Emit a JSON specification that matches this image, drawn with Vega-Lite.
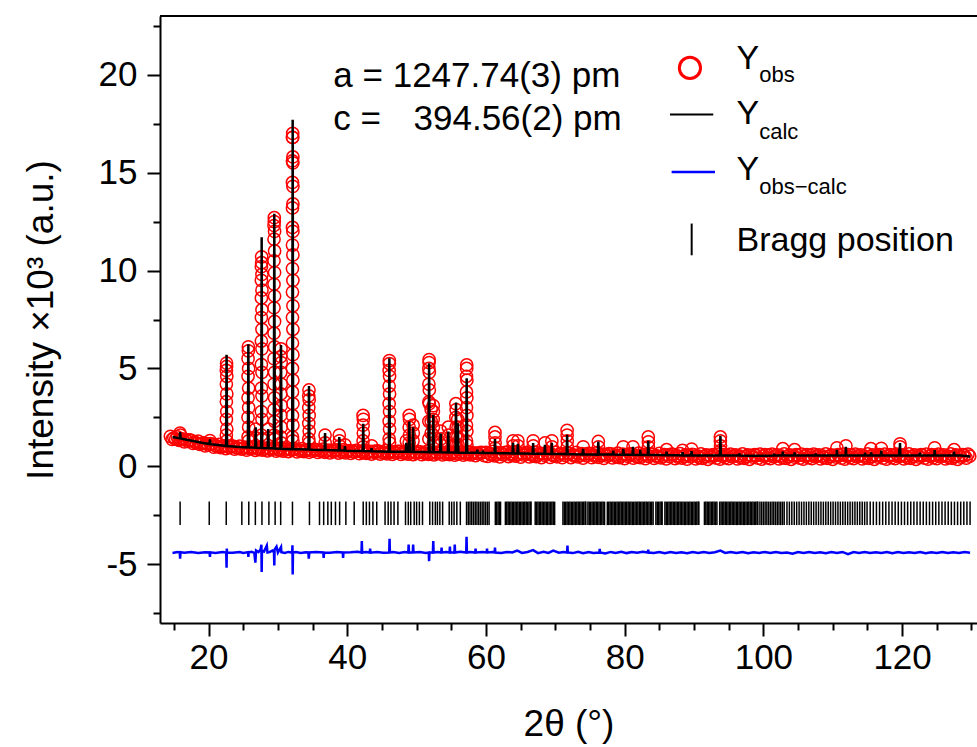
{
"$schema": "https://vega.github.io/schema/vega-lite/v6.json",
"autosize": {"type": "none"},
"padding": {"left": 160, "top": 16, "right": 0, "bottom": 124},
"width": 817,
"height": 607,
"background": "white",
"config": {
  "view": {"stroke": null},
  "font": "Liberation Sans",
  "axis": {"domainColor": "black", "domainWidth": 2, "tickColor": "black", "tickWidth": 2, "labelColor": "black", "titleColor": "black", "labelFont": "Liberation Sans", "titleFont": "Liberation Sans", "labelFontSize": 35, "titleFontSize": 37, "titleFontWeight": "normal", "grid": false, "labelFlush": false, "labelOverlap": false},
  "axisX": {"labelPadding": 4, "titlePadding": 31},
  "axisY": {"labelPadding": 10, "titlePadding": 38}
},
"data": {"values": [{}]},
"datasets": {
"obs": [
{"x":14.5,"y":1.53},{"x":14.75,"y":1.38},{"x":15.0,"y":1.46},{"x":15.25,"y":1.39},{"x":15.5,"y":1.5},{"x":15.75,"y":1.33},{"x":16.0,"y":1.37},{"x":16.25,"y":1.4},{"x":16.5,"y":1.25},{"x":16.75,"y":1.36},{"x":17.0,"y":1.28},{"x":17.25,"y":1.35},{"x":17.5,"y":1.33},{"x":17.75,"y":1.17},{"x":18.0,"y":1.25},{"x":18.25,"y":1.18},{"x":18.5,"y":1.29},{"x":18.75,"y":1.12},{"x":19.0,"y":1.16},{"x":19.25,"y":1.2},{"x":19.5,"y":1.04},{"x":19.75,"y":1.16},{"x":20.0,"y":1.08},{"x":20.25,"y":1.16},{"x":20.5,"y":1.14},{"x":20.75,"y":0.98},{"x":21.0,"y":1.07},{"x":21.25,"y":1.01},{"x":21.5,"y":1.12},{"x":21.75,"y":0.96},{"x":22.0,"y":1.01},{"x":22.25,"y":1.05},{"x":22.5,"y":0.91},{"x":22.75,"y":1.03},{"x":23.0,"y":0.96},{"x":23.25,"y":1.04},{"x":23.5,"y":1.03},{"x":23.75,"y":0.88},{"x":24.0,"y":0.97},{"x":24.25,"y":0.92},{"x":24.5,"y":1.03},{"x":24.75,"y":0.88},{"x":25.0,"y":0.93},{"x":25.25,"y":0.98},{"x":25.5,"y":0.83},{"x":25.75,"y":0.96},{"x":26.0,"y":0.89},{"x":26.25,"y":0.98},{"x":26.5,"y":0.97},{"x":26.75,"y":0.82},{"x":27.0,"y":0.92},{"x":27.25,"y":0.87},{"x":27.5,"y":0.98},{"x":27.75,"y":0.83},{"x":28.0,"y":0.88},{"x":28.25,"y":0.93},{"x":28.5,"y":0.79},{"x":28.75,"y":0.91},{"x":29.0,"y":0.85},{"x":29.25,"y":0.94},{"x":29.5,"y":0.92},{"x":29.75,"y":0.78},{"x":30.0,"y":0.87},{"x":30.25,"y":0.82},{"x":30.5,"y":0.94},{"x":30.75,"y":0.78},{"x":31.0,"y":0.84},{"x":31.25,"y":0.89},{"x":31.5,"y":0.75},{"x":31.75,"y":0.87},{"x":32.0,"y":0.81},{"x":32.25,"y":0.9},{"x":32.5,"y":0.89},{"x":32.75,"y":0.74},{"x":33.0,"y":0.84},{"x":33.25,"y":0.79},{"x":33.5,"y":0.91},{"x":33.75,"y":0.75},{"x":34.0,"y":0.81},{"x":34.25,"y":0.86},{"x":34.5,"y":0.72},{"x":34.75,"y":0.84},{"x":35.0,"y":0.78},{"x":35.25,"y":0.87},{"x":35.5,"y":0.86},{"x":35.75,"y":0.71},{"x":36.0,"y":0.81},{"x":36.25,"y":0.76},{"x":36.5,"y":0.88},{"x":36.75,"y":0.72},{"x":37.0,"y":0.78},{"x":37.25,"y":0.83},{"x":37.5,"y":0.69},{"x":37.75,"y":0.81},{"x":38.0,"y":0.75},{"x":38.25,"y":0.84},{"x":38.5,"y":0.83},{"x":38.75,"y":0.68},{"x":39.0,"y":0.78},{"x":39.25,"y":0.73},{"x":39.5,"y":0.85},{"x":39.75,"y":0.69},{"x":40.0,"y":0.75},{"x":40.25,"y":0.8},{"x":40.5,"y":0.66},{"x":40.75,"y":0.78},{"x":41.0,"y":0.72},{"x":41.25,"y":0.81},{"x":41.5,"y":0.8},{"x":41.75,"y":0.65},{"x":42.0,"y":0.75},{"x":42.25,"y":0.7},{"x":42.5,"y":0.82},{"x":42.75,"y":0.66},{"x":43.0,"y":0.72},{"x":43.25,"y":0.77},{"x":43.5,"y":0.63},{"x":43.75,"y":0.76},{"x":44.0,"y":0.7},{"x":44.25,"y":0.79},{"x":44.5,"y":0.78},{"x":44.75,"y":0.63},{"x":45.0,"y":0.73},{"x":45.25,"y":0.68},{"x":45.5,"y":0.8},{"x":45.75,"y":0.64},{"x":46.0,"y":0.7},{"x":46.25,"y":0.75},{"x":46.5,"y":0.61},{"x":46.75,"y":0.74},{"x":47.0,"y":0.68},{"x":47.25,"y":0.77},{"x":47.5,"y":0.76},{"x":47.75,"y":0.61},{"x":48.0,"y":0.71},{"x":48.25,"y":0.66},{"x":48.5,"y":0.78},{"x":48.75,"y":0.63},{"x":49.0,"y":0.69},{"x":49.25,"y":0.74},{"x":49.5,"y":0.6},{"x":49.75,"y":0.72},{"x":50.0,"y":0.66},{"x":50.25,"y":0.75},{"x":50.5,"y":0.74},{"x":50.75,"y":0.6},{"x":51.0,"y":0.7},{"x":51.25,"y":0.65},{"x":51.5,"y":0.77},{"x":51.75,"y":0.61},{"x":52.0,"y":0.67},{"x":52.25,"y":0.72},{"x":52.5,"y":0.58},{"x":52.75,"y":0.71},{"x":53.0,"y":0.65},{"x":53.25,"y":0.74},{"x":53.5,"y":0.73},{"x":53.75,"y":0.58},{"x":54.0,"y":0.68},{"x":54.25,"y":0.63},{"x":54.5,"y":0.75},{"x":54.75,"y":0.6},{"x":55.0,"y":0.66},{"x":55.25,"y":0.71},{"x":55.5,"y":0.57},{"x":55.75,"y":0.69},{"x":56.0,"y":0.63},{"x":56.25,"y":0.72},{"x":56.5,"y":0.71},{"x":56.75,"y":0.57},{"x":57.0,"y":0.67},{"x":57.25,"y":0.62},{"x":57.5,"y":0.74},{"x":57.75,"y":0.58},{"x":58.0,"y":0.64},{"x":58.25,"y":0.69},{"x":58.5,"y":0.55},{"x":58.75,"y":0.68},{"x":59.0,"y":0.62},{"x":59.25,"y":0.71},{"x":59.5,"y":0.7},{"x":59.75,"y":0.55},
{"x":60.0,"y":0.72},{"x":60.25,"y":0.51},{"x":60.5,"y":0.66},{"x":60.75,"y":0.58},{"x":61.0,"y":0.77},{"x":61.25,"y":0.54},{"x":61.5,"y":0.63},{"x":61.75,"y":0.7},{"x":62.0,"y":0.48},{"x":62.25,"y":0.68},{"x":62.5,"y":0.59},{"x":62.75,"y":0.72},{"x":63.0,"y":0.71},{"x":63.25,"y":0.5},{"x":63.5,"y":0.64},{"x":63.75,"y":0.56},{"x":64.0,"y":0.75},{"x":64.25,"y":0.52},{"x":64.5,"y":0.61},{"x":64.75,"y":0.69},{"x":65.0,"y":0.47},{"x":65.25,"y":0.66},{"x":65.5,"y":0.57},{"x":65.75,"y":0.7},{"x":66.0,"y":0.69},{"x":66.25,"y":0.48},{"x":66.5,"y":0.63},{"x":66.75,"y":0.55},{"x":67.0,"y":0.73},{"x":67.25,"y":0.5},{"x":67.5,"y":0.59},{"x":67.75,"y":0.67},{"x":68.0,"y":0.45},{"x":68.25,"y":0.65},{"x":68.5,"y":0.56},{"x":68.75,"y":0.69},{"x":69.0,"y":0.67},{"x":69.25,"y":0.46},{"x":69.5,"y":0.61},{"x":69.75,"y":0.53},{"x":70.0,"y":0.72},{"x":70.25,"y":0.49},{"x":70.5,"y":0.58},{"x":70.75,"y":0.66},{"x":71.0,"y":0.44},{"x":71.25,"y":0.64},{"x":71.5,"y":0.55},{"x":71.75,"y":0.67},{"x":72.0,"y":0.66},{"x":72.25,"y":0.45},{"x":72.5,"y":0.6},{"x":72.75,"y":0.52},{"x":73.0,"y":0.71},{"x":73.25,"y":0.48},{"x":73.5,"y":0.57},{"x":73.75,"y":0.65},{"x":74.0,"y":0.42},{"x":74.25,"y":0.62},{"x":74.5,"y":0.53},{"x":74.75,"y":0.66},{"x":75.0,"y":0.65},{"x":75.25,"y":0.44},{"x":75.5,"y":0.59},{"x":75.75,"y":0.51},{"x":76.0,"y":0.7},{"x":76.25,"y":0.46},{"x":76.5,"y":0.55},{"x":76.75,"y":0.63},{"x":77.0,"y":0.41},{"x":77.25,"y":0.61},{"x":77.5,"y":0.52},{"x":77.75,"y":0.65},{"x":78.0,"y":0.64},{"x":78.25,"y":0.43},{"x":78.5,"y":0.58},{"x":78.75,"y":0.5},{"x":79.0,"y":0.68},{"x":79.25,"y":0.45},{"x":79.5,"y":0.54},{"x":79.75,"y":0.62},{"x":80.0,"y":0.4},{"x":80.25,"y":0.6},{"x":80.5,"y":0.51},{"x":80.75,"y":0.64},{"x":81.0,"y":0.63},{"x":81.25,"y":0.42},{"x":81.5,"y":0.57},{"x":81.75,"y":0.48},{"x":82.0,"y":0.67},{"x":82.25,"y":0.44},{"x":82.5,"y":0.53},{"x":82.75,"y":0.61},{"x":83.0,"y":0.39},{"x":83.25,"y":0.59},{"x":83.5,"y":0.5},{"x":83.75,"y":0.63},{"x":84.0,"y":0.62},{"x":84.25,"y":0.41},{"x":84.5,"y":0.55},{"x":84.75,"y":0.47},{"x":85.0,"y":0.66},{"x":85.25,"y":0.43},{"x":85.5,"y":0.52},{"x":85.75,"y":0.6},{"x":86.0,"y":0.38},{"x":86.25,"y":0.58},{"x":86.5,"y":0.49},{"x":86.75,"y":0.62},{"x":87.0,"y":0.61},{"x":87.25,"y":0.4},{"x":87.5,"y":0.55},{"x":87.75,"y":0.46},{"x":88.0,"y":0.65},{"x":88.25,"y":0.42},{"x":88.5,"y":0.51},{"x":88.75,"y":0.59},{"x":89.0,"y":0.37},{"x":89.25,"y":0.57},{"x":89.5,"y":0.48},{"x":89.75,"y":0.61},
{"x":90.0,"y":0.59},{"x":90.25,"y":0.38},{"x":90.5,"y":0.53},{"x":90.75,"y":0.45},{"x":91.0,"y":0.64},{"x":91.25,"y":0.41},{"x":91.5,"y":0.5},{"x":91.75,"y":0.58},{"x":92.0,"y":0.36},{"x":92.25,"y":0.56},{"x":92.5,"y":0.47},{"x":92.75,"y":0.6},
{"x":93.0,"y":0.55},{"x":93.25,"y":0.42},{"x":93.5,"y":0.62},{"x":93.75,"y":0.37},{"x":94.0,"y":0.52},{"x":94.25,"y":0.6},{"x":94.5,"y":0.44},{"x":94.75,"y":0.57},{"x":95.0,"y":0.39},{"x":95.25,"y":0.63},{"x":95.5,"y":0.48},{"x":95.75,"y":0.54},
{"x":96.0,"y":0.59},{"x":96.25,"y":0.38},{"x":96.5,"y":0.53},{"x":96.75,"y":0.45},{"x":97.0,"y":0.64},{"x":97.25,"y":0.41},{"x":97.5,"y":0.5},{"x":97.75,"y":0.58},{"x":98.0,"y":0.36},{"x":98.25,"y":0.56},{"x":98.5,"y":0.47},{"x":98.75,"y":0.6},
{"x":99.0,"y":0.55},{"x":99.25,"y":0.42},{"x":99.5,"y":0.62},{"x":99.75,"y":0.37},{"x":100.0,"y":0.52},{"x":100.25,"y":0.6},{"x":100.5,"y":0.44},{"x":100.75,"y":0.57},{"x":101.0,"y":0.39},{"x":101.25,"y":0.63},{"x":101.5,"y":0.48},{"x":101.75,"y":0.54},
{"x":102.0,"y":0.59},{"x":102.25,"y":0.38},{"x":102.5,"y":0.53},{"x":102.75,"y":0.45},{"x":103.0,"y":0.64},{"x":103.25,"y":0.41},{"x":103.5,"y":0.5},{"x":103.75,"y":0.58},{"x":104.0,"y":0.36},{"x":104.25,"y":0.56},{"x":104.5,"y":0.47},{"x":104.75,"y":0.6},
{"x":105.0,"y":0.55},{"x":105.25,"y":0.42},{"x":105.5,"y":0.62},{"x":105.75,"y":0.37},{"x":106.0,"y":0.52},{"x":106.25,"y":0.6},{"x":106.5,"y":0.44},{"x":106.75,"y":0.57},{"x":107.0,"y":0.39},{"x":107.25,"y":0.63},{"x":107.5,"y":0.48},{"x":107.75,"y":0.54},
{"x":108.0,"y":0.59},{"x":108.25,"y":0.38},{"x":108.5,"y":0.53},{"x":108.75,"y":0.45},{"x":109.0,"y":0.64},{"x":109.25,"y":0.41},{"x":109.5,"y":0.5},{"x":109.75,"y":0.58},{"x":110.0,"y":0.36},{"x":110.25,"y":0.56},{"x":110.5,"y":0.47},{"x":110.75,"y":0.6},
{"x":111.0,"y":0.55},{"x":111.25,"y":0.42},{"x":111.5,"y":0.62},{"x":111.75,"y":0.37},{"x":112.0,"y":0.52},{"x":112.25,"y":0.6},{"x":112.5,"y":0.44},{"x":112.75,"y":0.57},{"x":113.0,"y":0.39},{"x":113.25,"y":0.63},{"x":113.5,"y":0.48},{"x":113.75,"y":0.54},
{"x":114.0,"y":0.59},{"x":114.25,"y":0.38},{"x":114.5,"y":0.53},{"x":114.75,"y":0.45},{"x":115.0,"y":0.64},{"x":115.25,"y":0.41},{"x":115.5,"y":0.5},{"x":115.75,"y":0.58},{"x":116.0,"y":0.36},{"x":116.25,"y":0.56},{"x":116.5,"y":0.47},{"x":116.75,"y":0.6},
{"x":117.0,"y":0.55},{"x":117.25,"y":0.42},{"x":117.5,"y":0.62},{"x":117.75,"y":0.37},{"x":118.0,"y":0.52},{"x":118.25,"y":0.6},{"x":118.5,"y":0.44},{"x":118.75,"y":0.57},{"x":119.0,"y":0.39},{"x":119.25,"y":0.63},{"x":119.5,"y":0.48},{"x":119.75,"y":0.54},
{"x":120.0,"y":0.59},{"x":120.25,"y":0.38},{"x":120.5,"y":0.53},{"x":120.75,"y":0.45},{"x":121.0,"y":0.64},{"x":121.25,"y":0.41},{"x":121.5,"y":0.5},{"x":121.75,"y":0.58},{"x":122.0,"y":0.36},{"x":122.25,"y":0.56},{"x":122.5,"y":0.47},{"x":122.75,"y":0.6},
{"x":123.0,"y":0.55},{"x":123.25,"y":0.42},{"x":123.5,"y":0.62},{"x":123.75,"y":0.37},{"x":124.0,"y":0.52},{"x":124.25,"y":0.6},{"x":124.5,"y":0.44},{"x":124.75,"y":0.57},{"x":125.0,"y":0.39},{"x":125.25,"y":0.63},{"x":125.5,"y":0.48},{"x":125.75,"y":0.54},
{"x":126.0,"y":0.59},{"x":126.25,"y":0.38},{"x":126.5,"y":0.53},{"x":126.75,"y":0.45},{"x":127.0,"y":0.64},{"x":127.25,"y":0.41},{"x":127.5,"y":0.5},{"x":127.75,"y":0.58},{"x":128.0,"y":0.36},{"x":128.25,"y":0.56},{"x":128.5,"y":0.47},{"x":128.75,"y":0.6},
{"x":129.0,"y":0.55},{"x":129.25,"y":0.42},{"x":129.5,"y":0.62},{"x":129.75,"y":0.52},
{"x":15.88,"y":1.7},{"x":15.94,"y":1.6},{"x":20.2,"y":1.32},
{"x":22.57,"y":1.6},{"x":22.57,"y":2.4},{"x":22.57,"y":3.3},{"x":22.57,"y":4.2},{"x":22.57,"y":4.9},{"x":22.6,"y":5.27},{"x":22.6,"y":5.1},{"x":22.63,"y":4.6},{"x":22.63,"y":3.7},{"x":22.63,"y":2.8},{"x":22.63,"y":1.9},{"x":22.63,"y":1.3},
{"x":25.7,"y":1.5},{"x":25.7,"y":2.5},{"x":25.7,"y":3.5},{"x":25.7,"y":4.6},{"x":25.7,"y":5.5},{"x":25.74,"y":6.1},{"x":25.74,"y":5.9},{"x":25.78,"y":5.0},{"x":25.78,"y":4.0},{"x":25.78,"y":3.0},{"x":25.78,"y":2.0},{"x":25.78,"y":1.3},
{"x":26.8,"y":1.9},{"x":26.82,"y":1.45},
{"x":27.62,"y":1.6},{"x":27.62,"y":2.8},{"x":27.62,"y":4.0},{"x":27.62,"y":5.2},{"x":27.62,"y":6.4},{"x":27.62,"y":7.6},{"x":27.62,"y":8.6},{"x":27.62,"y":9.5},{"x":27.62,"y":10.2},{"x":27.66,"y":10.7},{"x":27.66,"y":10.4},{"x":27.7,"y":9.8},{"x":27.7,"y":9.0},{"x":27.7,"y":8.0},{"x":27.7,"y":7.0},{"x":27.7,"y":6.0},{"x":27.7,"y":4.8},{"x":27.7,"y":3.6},{"x":27.7,"y":2.4},{"x":27.7,"y":1.4},
{"x":28.6,"y":1.9},{"x":28.62,"y":1.45},
{"x":29.44,"y":1.6},{"x":29.44,"y":2.9},{"x":29.44,"y":4.2},{"x":29.44,"y":5.5},{"x":29.44,"y":6.8},{"x":29.44,"y":8.1},{"x":29.44,"y":9.3},{"x":29.44,"y":10.5},{"x":29.44,"y":11.6},{"x":29.44,"y":12.3},{"x":29.48,"y":12.7},{"x":29.48,"y":12.5},{"x":29.52,"y":12.0},{"x":29.52,"y":11.0},{"x":29.52,"y":9.9},{"x":29.52,"y":8.7},{"x":29.52,"y":7.4},{"x":29.52,"y":6.1},{"x":29.52,"y":4.8},{"x":29.52,"y":3.5},{"x":29.52,"y":2.3},{"x":29.52,"y":1.4},
{"x":30.42,"y":1.5},{"x":30.42,"y":2.6},{"x":30.42,"y":3.7},{"x":30.42,"y":4.8},{"x":30.42,"y":5.6},{"x":30.45,"y":6.0},{"x":30.48,"y":5.3},{"x":30.48,"y":4.2},{"x":30.48,"y":3.1},{"x":30.48,"y":2.0},{"x":30.48,"y":1.2},
{"x":32.1,"y":1.5},{"x":32.1,"y":2.6},{"x":32.1,"y":3.8},{"x":32.1,"y":5.0},{"x":32.1,"y":6.3},{"x":32.1,"y":7.6},{"x":32.1,"y":8.9},{"x":32.1,"y":10.1},{"x":32.1,"y":11.3},{"x":32.1,"y":12.2},{"x":32.1,"y":13.2},{"x":32.1,"y":14.5},{"x":32.1,"y":15.6},{"x":32.1,"y":16.8},{"x":32.13,"y":17.0},{"x":32.13,"y":16.8},{"x":32.16,"y":15.8},{"x":32.16,"y":15.5},{"x":32.16,"y":14.3},{"x":32.16,"y":13.4},{"x":32.16,"y":12.0},{"x":32.16,"y":10.8},{"x":32.16,"y":9.5},{"x":32.16,"y":8.2},{"x":32.16,"y":7.0},{"x":32.16,"y":5.7},{"x":32.16,"y":4.4},{"x":32.16,"y":3.2},{"x":32.16,"y":2.1},{"x":32.16,"y":1.3},
{"x":34.45,"y":1.4},{"x":34.45,"y":2.2},{"x":34.45,"y":3.0},{"x":34.45,"y":3.6},{"x":34.48,"y":3.9},{"x":34.51,"y":3.4},{"x":34.51,"y":2.6},{"x":34.51,"y":1.8},{"x":34.51,"y":1.2},
{"x":36.8,"y":1.6},{"x":36.82,"y":1.2},{"x":38.85,"y":1.6},{"x":38.87,"y":1.3},{"x":38.9,"y":1.05},{"x":39.67,"y":1.1},
{"x":42.28,"y":2.6},{"x":42.28,"y":2.1},{"x":42.28,"y":1.3},{"x":42.32,"y":2.4},{"x":42.32,"y":1.7},{"x":42.32,"y":1.0},{"x":43.52,"y":1.05},
{"x":46.04,"y":1.4},{"x":46.04,"y":2.3},{"x":46.04,"y":3.2},{"x":46.04,"y":4.1},{"x":46.04,"y":4.9},{"x":46.07,"y":5.4},{"x":46.07,"y":5.25},{"x":46.1,"y":4.6},{"x":46.1,"y":3.7},{"x":46.1,"y":2.8},{"x":46.1,"y":1.9},{"x":46.1,"y":1.2},
{"x":48.52,"y":1.3},{"x":48.93,"y":2.6},{"x":48.93,"y":2.0},{"x":48.93,"y":1.2},{"x":48.97,"y":2.4},{"x":48.97,"y":1.6},{"x":49.5,"y":2.1},{"x":49.52,"y":1.7},{"x":49.48,"y":1.3},
{"x":51.77,"y":1.4},{"x":51.77,"y":2.3},{"x":51.77,"y":3.3},{"x":51.77,"y":4.2},{"x":51.77,"y":5.0},{"x":51.8,"y":5.45},{"x":51.8,"y":5.3},{"x":51.83,"y":4.8},{"x":51.83,"y":3.9},{"x":51.83,"y":3.2},
{"x":52.1,"y":2.9},{"x":52.1,"y":2.3},{"x":52.1,"y":1.7},{"x":52.4,"y":3.1},{"x":52.4,"y":2.4},{"x":52.4,"y":1.6},{"x":52.42,"y":2.8},{"x":52.42,"y":2.0},{"x":52.42,"y":1.2},
{"x":53.45,"y":1.1},{"x":53.47,"y":1.8},{"x":53.49,"y":1.4},{"x":54.55,"y":1.2},{"x":54.57,"y":2.0},{"x":54.59,"y":1.6},
{"x":55.66,"y":3.2},{"x":55.66,"y":2.5},{"x":55.66,"y":1.5},{"x":55.7,"y":2.9},{"x":55.7,"y":2.0},{"x":55.7,"y":1.1},{"x":55.93,"y":2.4},{"x":55.93,"y":1.5},{"x":55.97,"y":2.0},{"x":55.97,"y":1.1},
{"x":57.19,"y":1.3},{"x":57.19,"y":2.1},{"x":57.19,"y":3.0},{"x":57.19,"y":3.8},{"x":57.19,"y":4.6},{"x":57.22,"y":5.18},{"x":57.22,"y":5.0},{"x":57.25,"y":4.4},{"x":57.25,"y":3.5},{"x":57.25,"y":2.6},{"x":57.25,"y":1.8},{"x":57.25,"y":1.1},
{"x":61.3,"y":1.73},{"x":61.3,"y":1.5},{"x":61.32,"y":1.2},{"x":61.32,"y":0.95},
{"x":63.9,"y":1.3},{"x":63.92,"y":1.05},{"x":64.6,"y":1.3},{"x":64.62,"y":1.05},{"x":66.8,"y":1.3},{"x":66.82,"y":1.05},{"x":68.52,"y":1.2},{"x":69.5,"y":1.3},{"x":69.52,"y":1.0},
{"x":71.7,"y":1.84},{"x":71.7,"y":1.6},{"x":71.72,"y":1.3},{"x":71.72,"y":1.0},
{"x":74.02,"y":1.0},{"x":76.2,"y":1.27},{"x":76.22,"y":1.0},{"x":79.8,"y":1.0},{"x":81.2,"y":1.0},
{"x":83.4,"y":1.5},{"x":83.42,"y":1.25},{"x":83.42,"y":1.0},
{"x":86.05,"y":0.85},{"x":88.35,"y":0.82},{"x":89.65,"y":0.88},
{"x":93.8,"y":1.5},{"x":93.8,"y":1.3},{"x":93.82,"y":1.05},{"x":93.82,"y":0.8},
{"x":102.8,"y":0.9},{"x":104.5,"y":0.85},{"x":110.6,"y":0.95},{"x":111.9,"y":1.05},{"x":115.5,"y":0.9},{"x":117.0,"y":0.92},{"x":119.7,"y":1.15},{"x":119.72,"y":1.0},{"x":124.7,"y":0.95},{"x":127.5,"y":0.85}
],
"calc": [
{"x":14.8,"y":1.5},{"x":15.0,"y":1.49},{"x":15.83,"y":1.43},{"x":15.9,"y":1.75},{"x":15.97,"y":1.42},{"x":17.0,"y":1.35},{"x":18.0,"y":1.28},{"x":19.0,"y":1.21},{"x":20.13,"y":1.14},{"x":20.2,"y":1.38},{"x":20.27,"y":1.13},{"x":21.0,"y":1.1},{"x":22.0,"y":1.06},{"x":22.53,"y":1.04},{"x":22.6,"y":5.7},{"x":22.67,"y":1.04},{"x":23.0,"y":1.03},{"x":24.0,"y":1.0},{"x":25.0,"y":0.98},{"x":25.67,"y":0.97},{"x":25.74,"y":6.23},{"x":25.81,"y":0.97},{"x":26.73,"y":0.955},{"x":26.8,"y":2.0},{"x":26.87,"y":0.95},{"x":27.59,"y":0.94},{"x":27.66,"y":11.7},{"x":27.73,"y":0.94},{"x":28.53,"y":0.925},{"x":28.6,"y":1.9},{"x":28.67,"y":0.925},{"x":29.0,"y":0.92},{"x":29.41,"y":0.91},{"x":29.48,"y":12.9},{"x":29.55,"y":0.91},{"x":30.38,"y":0.9},{"x":30.45,"y":6.2},{"x":30.52,"y":0.9},{"x":31.0,"y":0.89},{"x":32.06,"y":0.88},{"x":32.13,"y":17.7},{"x":32.2,"y":0.88},{"x":33.0,"y":0.87},{"x":34.41,"y":0.86},{"x":34.48,"y":4.1},{"x":34.55,"y":0.86},{"x":35.0,"y":0.85},{"x":36.0,"y":0.84},{"x":36.73,"y":0.835},{"x":36.8,"y":1.7},{"x":36.87,"y":0.83},{"x":38.0,"y":0.82},{"x":38.78,"y":0.81},{"x":38.85,"y":1.5},{"x":38.92,"y":0.81},{"x":39.6,"y":0.805},{"x":39.67,"y":1.03},{"x":39.74,"y":0.8},{"x":41.0,"y":0.79},{"x":42.23,"y":0.78},{"x":42.3,"y":2.17},{"x":42.37,"y":0.78},{"x":43.43,"y":0.77},{"x":43.5,"y":0.93},{"x":43.57,"y":0.77},{"x":45.0,"y":0.76},{"x":46.0,"y":0.75},{"x":46.07,"y":5.52},{"x":46.14,"y":0.75},{"x":48.0,"y":0.74},{"x":48.43,"y":0.74},{"x":48.5,"y":1.2},{"x":48.57,"y":0.74},{"x":48.88,"y":0.74},{"x":48.95,"y":2.29},{"x":49.02,"y":0.74},{"x":49.43,"y":0.735},{"x":49.5,"y":2.0},{"x":49.57,"y":0.735},{"x":51.0,"y":0.73},{"x":51.73,"y":0.72},{"x":51.8,"y":5.27},{"x":51.87,"y":0.72},{"x":52.33,"y":0.72},{"x":52.4,"y":2.63},{"x":52.47,"y":0.72},{"x":53.4,"y":0.715},{"x":53.47,"y":1.67},{"x":53.54,"y":0.715},{"x":54.5,"y":0.71},{"x":54.57,"y":1.78},{"x":54.64,"y":0.71},{"x":55.61,"y":0.705},{"x":55.68,"y":3.26},{"x":55.75,"y":0.705},{"x":55.88,"y":0.7},{"x":55.95,"y":2.2},{"x":56.02,"y":0.7},{"x":57.15,"y":0.7},{"x":57.22,"y":4.5},{"x":57.29,"y":0.7},{"x":58.0,"y":0.69},{"x":58.7,"y":0.69},{"x":58.75,"y":0.85},{"x":58.8,"y":0.69},{"x":59.5,"y":0.685},{"x":59.55,"y":0.8},{"x":59.6,"y":0.685},{"x":60.5,"y":0.68},{"x":61.23,"y":0.68},{"x":61.3,"y":1.4},{"x":61.37,"y":0.68},{"x":62.0,"y":0.67},{"x":63.0,"y":0.67},{"x":63.83,"y":0.66},{"x":63.9,"y":1.2},{"x":63.97,"y":0.66},{"x":64.53,"y":0.66},{"x":64.6,"y":1.15},{"x":64.67,"y":0.66},{"x":65.5,"y":0.655},{"x":66.73,"y":0.65},{"x":66.8,"y":1.19},{"x":66.87,"y":0.65},{"x":67.5,"y":0.645},{"x":68.43,"y":0.64},{"x":68.5,"y":1.1},{"x":68.57,"y":0.64},{"x":69.43,"y":0.635},{"x":69.5,"y":1.2},{"x":69.57,"y":0.635},{"x":70.5,"y":0.63},{"x":71.63,"y":0.625},{"x":71.7,"y":1.61},{"x":71.77,"y":0.625},{"x":72.5,"y":0.62},{"x":73.93,"y":0.61},{"x":74.0,"y":0.9},{"x":74.07,"y":0.61},{"x":75.0,"y":0.61},{"x":76.13,"y":0.6},{"x":76.2,"y":1.27},{"x":76.27,"y":0.6},{"x":77.5,"y":0.6},{"x":78.3,"y":0.6},{"x":78.35,"y":0.8},{"x":78.4,"y":0.6},{"x":79.73,"y":0.59},{"x":79.8,"y":0.9},{"x":79.87,"y":0.59},{"x":81.13,"y":0.59},{"x":81.2,"y":1.0},{"x":81.27,"y":0.59},{"x":82.2,"y":0.58},{"x":82.25,"y":0.85},{"x":82.3,"y":0.58},{"x":83.33,"y":0.58},{"x":83.4,"y":1.3},{"x":83.47,"y":0.58},{"x":84.5,"y":0.575},{"x":86.0,"y":0.57},{"x":86.05,"y":0.75},{"x":86.1,"y":0.57},{"x":87.5,"y":0.565},{"x":88.3,"y":0.56},{"x":88.35,"y":0.72},{"x":88.4,"y":0.56},{"x":89.6,"y":0.56},{"x":89.65,"y":0.78},{"x":89.7,"y":0.56},{"x":91.0,"y":0.55},{"x":92.0,"y":0.55},{"x":93.73,"y":0.55},{"x":93.8,"y":1.56},{"x":93.87,"y":0.55},{"x":95.0,"y":0.55},{"x":96.5,"y":0.55},{"x":96.55,"y":0.66},{"x":96.6,"y":0.55},{"x":98.0,"y":0.54},{"x":100.0,"y":0.54},{"x":101.5,"y":0.55},{"x":101.55,"y":0.65},{"x":101.6,"y":0.55},{"x":102.75,"y":0.55},{"x":102.8,"y":0.75},{"x":102.85,"y":0.55},{"x":104.45,"y":0.55},{"x":104.5,"y":0.72},{"x":104.55,"y":0.55},{"x":106.0,"y":0.55},{"x":107.5,"y":0.55},{"x":107.55,"y":0.66},{"x":107.6,"y":0.55},{"x":109.0,"y":0.55},{"x":110.55,"y":0.55},{"x":110.6,"y":0.85},{"x":110.65,"y":0.55},{"x":111.85,"y":0.55},{"x":111.9,"y":1.0},{"x":111.95,"y":0.55},{"x":113.5,"y":0.55},{"x":114.6,"y":0.55},{"x":114.65,"y":0.7},{"x":114.7,"y":0.55},{"x":115.5,"y":0.55},{"x":115.55,"y":0.72},{"x":115.6,"y":0.55},{"x":116.95,"y":0.56},{"x":117.0,"y":0.8},{"x":117.05,"y":0.56},{"x":118.5,"y":0.56},{"x":119.55,"y":0.56},{"x":119.6,"y":0.9},{"x":119.65,"y":0.6},{"x":119.7,"y":1.19},{"x":119.75,"y":0.56},{"x":121.0,"y":0.56},{"x":122.5,"y":0.56},{"x":122.55,"y":0.7},{"x":122.6,"y":0.56},{"x":124.65,"y":0.56},{"x":124.7,"y":0.83},{"x":124.75,"y":0.56},{"x":126.0,"y":0.56},{"x":127.45,"y":0.56},{"x":127.5,"y":0.75},{"x":127.55,"y":0.56},{"x":128.5,"y":0.55},{"x":129.8,"y":0.5}
],
"diff": [
{"x":14.8,"y":-4.42},{"x":15.5,"y":-4.38},{"x":15.85,"y":-4.4},{"x":15.9,"y":-4.72},{"x":15.95,"y":-4.38},{"x":16.5,"y":-4.41},{"x":17.5,"y":-4.37},{"x":18.5,"y":-4.42},{"x":19.5,"y":-4.39},{"x":20.15,"y":-4.4},{"x":20.2,"y":-4.62},{"x":20.25,"y":-4.39},{"x":21.0,"y":-4.42},{"x":22.0,"y":-4.38},{"x":22.55,"y":-4.4},{"x":22.6,"y":-5.18},{"x":22.63,"y":-4.2},{"x":22.67,"y":-4.4},{"x":23.5,"y":-4.41},{"x":24.5,"y":-4.38},{"x":25.0,"y":-4.42},{"x":25.7,"y":-4.38},{"x":25.74,"y":-4.62},{"x":25.78,"y":-4.4},{"x":26.2,"y":-4.36},{"x":26.6,"y":-4.42},{"x":26.75,"y":-4.92},{"x":26.85,"y":-4.3},{"x":27.2,"y":-4.38},{"x":27.5,"y":-4.25},{"x":27.62,"y":-4.0},{"x":27.66,"y":-5.4},{"x":27.7,"y":-4.3},{"x":28.0,"y":-4.35},{"x":28.4,"y":-4.05},{"x":28.5,"y":-4.4},{"x":28.8,"y":-4.38},{"x":29.2,"y":-4.3},{"x":29.44,"y":-4.4},{"x":29.48,"y":-5.06},{"x":29.52,"y":-4.25},{"x":29.8,"y":-4.1},{"x":30.0,"y":-4.4},{"x":30.45,"y":-4.12},{"x":30.5,"y":-4.38},{"x":31.0,"y":-4.42},{"x":31.5,"y":-4.37},{"x":32.05,"y":-4.4},{"x":32.1,"y":-4.03},{"x":32.13,"y":-5.52},{"x":32.17,"y":-4.4},{"x":32.6,"y":-4.38},{"x":33.3,"y":-4.42},{"x":34.0,"y":-4.39},{"x":34.4,"y":-4.4},{"x":34.45,"y":-4.72},{"x":34.52,"y":-4.4},{"x":35.5,"y":-4.37},{"x":36.55,"y":-4.4},{"x":36.6,"y":-4.68},{"x":36.65,"y":-4.4},{"x":37.5,"y":-4.41},{"x":38.5,"y":-4.38},{"x":39.35,"y":-4.4},{"x":39.4,"y":-4.68},{"x":39.45,"y":-4.4},{"x":40.5,"y":-4.39},{"x":41.5,"y":-4.36},{"x":42.05,"y":-4.4},{"x":42.1,"y":-3.82},{"x":42.15,"y":-4.4},{"x":42.7,"y":-4.38},{"x":43.25,"y":-4.4},{"x":43.3,"y":-4.2},{"x":43.35,"y":-4.41},{"x":44.3,"y":-4.38},{"x":45.2,"y":-4.41},{"x":46.05,"y":-4.4},{"x":46.1,"y":-3.7},{"x":46.15,"y":-4.4},{"x":46.6,"y":-4.37},{"x":47.5,"y":-4.42},{"x":48.25,"y":-4.38},{"x":48.8,"y":-4.4},{"x":48.85,"y":-3.99},{"x":48.9,"y":-4.4},{"x":49.45,"y":-4.4},{"x":49.5,"y":-3.99},{"x":49.55,"y":-4.4},{"x":50.5,"y":-4.37},{"x":51.3,"y":-4.42},{"x":51.75,"y":-4.4},{"x":51.8,"y":-4.84},{"x":51.85,"y":-4.4},{"x":52.35,"y":-4.4},{"x":52.4,"y":-3.82},{"x":52.45,"y":-4.4},{"x":53.0,"y":-4.37},{"x":53.55,"y":-4.4},{"x":53.6,"y":-4.15},{"x":53.65,"y":-4.4},{"x":54.3,"y":-4.38},{"x":54.75,"y":-4.4},{"x":54.8,"y":-4.1},{"x":54.85,"y":-4.4},{"x":55.45,"y":-4.4},{"x":55.5,"y":-3.99},{"x":55.55,"y":-4.4},{"x":56.3,"y":-4.36},{"x":57.15,"y":-4.4},{"x":57.2,"y":-3.6},{"x":57.25,"y":-4.4},{"x":57.7,"y":-4.37},{"x":58.45,"y":-4.4},{"x":58.5,"y":-4.2},{"x":58.55,"y":-4.4},{"x":59.5,"y":-4.38},{"x":60.1,"y":-4.4},{"x":60.15,"y":-4.2},{"x":60.2,"y":-4.4},{"x":61.0,"y":-4.38},{"x":61.25,"y":-4.4},{"x":61.3,"y":-4.15},{"x":61.35,"y":-4.4},{"x":62.2,"y":-4.42},{"x":63.0,"y":-4.37},{"x":63.8,"y":-4.4},{"x":64.5,"y":-4.3},{"x":65.2,"y":-4.42},{"x":66.0,"y":-4.37},{"x":66.8,"y":-4.28},{"x":67.5,"y":-4.43},{"x":68.3,"y":-4.36},{"x":69.0,"y":-4.42},{"x":69.7,"y":-4.3},{"x":70.5,"y":-4.41},{"x":71.2,"y":-4.38},{"x":71.7,"y":-4.4},{"x":71.75,"y":-4.05},{"x":71.8,"y":-4.4},{"x":72.5,"y":-4.43},{"x":73.3,"y":-4.36},{"x":74.0,"y":-4.44},{"x":74.8,"y":-4.38},{"x":75.5,"y":-4.42},{"x":76.35,"y":-4.4},{"x":76.4,"y":-4.22},{"x":76.45,"y":-4.4},{"x":77.2,"y":-4.45},{"x":78.0,"y":-4.37},{"x":78.7,"y":-4.42},{"x":79.5,"y":-4.36},{"x":80.3,"y":-4.43},{"x":81.0,"y":-4.38},{"x":81.8,"y":-4.41},{"x":82.6,"y":-4.36},{"x":83.35,"y":-4.4},{"x":83.4,"y":-4.25},{"x":83.45,"y":-4.4},{"x":84.2,"y":-4.43},{"x":85.0,"y":-4.38},{"x":85.8,"y":-4.44},{"x":86.6,"y":-4.37},{"x":87.4,"y":-4.42},{"x":88.2,"y":-4.39},{"x":89.0,"y":-4.44},{"x":89.8,"y":-4.38},{"x":90.6,"y":-4.42},{"x":91.4,"y":-4.37},{"x":92.2,"y":-4.43},{"x":93.0,"y":-4.39},{"x":93.8,"y":-4.3},{"x":94.5,"y":-4.42},{"x":95.3,"y":-4.37},{"x":96.1,"y":-4.43},{"x":97.0,"y":-4.38},{"x":97.8,"y":-4.44},{"x":98.6,"y":-4.39},{"x":99.4,"y":-4.42},{"x":100.2,"y":-4.37},{"x":101.0,"y":-4.43},{"x":101.8,"y":-4.38},{"x":102.6,"y":-4.42},{"x":103.4,"y":-4.4},{"x":104.2,"y":-4.46},{"x":105.0,"y":-4.38},{"x":105.8,"y":-4.42},{"x":106.6,"y":-4.37},{"x":107.4,"y":-4.43},{"x":108.2,"y":-4.39},{"x":109.0,"y":-4.44},{"x":109.8,"y":-4.38},{"x":110.6,"y":-4.42},{"x":111.4,"y":-4.37},{"x":112.2,"y":-4.48},{"x":113.0,"y":-4.38},{"x":113.8,"y":-4.42},{"x":114.6,"y":-4.37},{"x":115.4,"y":-4.43},{"x":116.2,"y":-4.39},{"x":117.0,"y":-4.42},{"x":117.8,"y":-4.38},{"x":118.6,"y":-4.44},{"x":119.4,"y":-4.37},{"x":120.2,"y":-4.42},{"x":121.0,"y":-4.39},{"x":121.8,"y":-4.43},{"x":122.6,"y":-4.38},{"x":123.4,"y":-4.44},{"x":124.2,"y":-4.39},{"x":125.0,"y":-4.42},{"x":125.8,"y":-4.37},{"x":126.6,"y":-4.43},{"x":127.4,"y":-4.39},{"x":128.2,"y":-4.42},{"x":129.0,"y":-4.38},{"x":129.8,"y":-4.41}
],
"bragg": [
{"x":15.9},{"x":20.1},{"x":22.55},{"x":24.8},{"x":25.8},{"x":26.75},{"x":27.7},{"x":28.7},{"x":29.6},{"x":30.4},{"x":32.1},{"x":34.55},{"x":36.0},{"x":36.6},{"x":37.2},{"x":37.7},{"x":38.3},{"x":38.9},{"x":39.8},{"x":41.0},{"x":42.3},{"x":42.75},{"x":43.2},{"x":43.7},{"x":44.25},{"x":45.45},{"x":45.9},{"x":46.3},{"x":46.75},{"x":47.3},{"x":48.4},{"x":48.8},{"x":49.15},{"x":49.65},{"x":50.0},{"x":50.4},{"x":50.85},{"x":51.9},{"x":52.3},{"x":52.7},{"x":53.0},{"x":53.35},{"x":53.75},{"x":54.7},{"x":55.05},{"x":55.4},{"x":55.8},{"x":56.3},
{"x":57.2},{"x":57.45},{"x":57.7},{"x":57.95},{"x":58.2},{"x":58.45},{"x":58.7},{"x":58.95},{"x":59.2},{"x":59.45},{"x":59.7},{"x":59.95},{"x":60.2},{"x":60.45},
{"x":61.35},{"x":61.55},{"x":61.75},{"x":61.95},{"x":62.1},
{"x":62.8},{"x":63.0},{"x":63.2},{"x":63.4},{"x":63.6},{"x":63.8},{"x":64.0},{"x":64.2},{"x":64.4},{"x":64.6},{"x":64.8},{"x":65.0},{"x":65.2},{"x":65.4},{"x":65.6},{"x":65.8},{"x":66.0},{"x":66.2},{"x":66.4},{"x":66.5},
{"x":67.1},{"x":67.3},{"x":67.5},{"x":67.7},{"x":67.9},{"x":68.1},{"x":68.3},{"x":68.5},{"x":68.7},{"x":68.9},{"x":69.1},{"x":69.3},{"x":69.5},{"x":69.7},{"x":69.9},
{"x":71.1},{"x":71.3},{"x":71.5},{"x":71.7},{"x":71.9},{"x":72.1},
{"x":72.3},{"x":72.5},{"x":72.7},{"x":72.9},{"x":73.1},{"x":73.3},{"x":73.5},{"x":73.7},{"x":73.9},{"x":74.1},{"x":74.3},{"x":74.4},
{"x":74.7},{"x":74.9},{"x":75.1},{"x":75.3},{"x":75.5},{"x":75.7},{"x":75.9},{"x":76.1},{"x":76.3},{"x":76.5},{"x":76.7},{"x":76.9},{"x":77.1},
{"x":77.5},{"x":77.7},{"x":77.9},{"x":78.1},{"x":78.3},{"x":78.5},{"x":78.7},{"x":78.9},{"x":79.1},{"x":79.3},{"x":79.5},{"x":79.7},{"x":79.9},{"x":80.1},{"x":80.3},{"x":80.5},{"x":80.7},{"x":80.9},{"x":81.1},{"x":81.3},{"x":81.5},{"x":81.7},{"x":81.9},{"x":82.1},{"x":82.3},{"x":82.5},{"x":82.7},{"x":82.9},{"x":83.1},{"x":83.3},{"x":83.5},{"x":83.7},{"x":83.9},{"x":84.1},
{"x":84.5},{"x":84.7},{"x":84.9},{"x":85.1},{"x":85.3},{"x":85.4},
{"x":85.8},{"x":86.0},{"x":86.2},{"x":86.4},{"x":86.6},{"x":86.8},{"x":87.0},{"x":87.2},{"x":87.4},{"x":87.6},{"x":87.8},{"x":88.0},{"x":88.2},{"x":88.4},{"x":88.6},{"x":88.8},{"x":89.0},{"x":89.2},{"x":89.4},{"x":89.6},{"x":89.8},{"x":90.0},{"x":90.2},{"x":90.4},{"x":90.6},{"x":90.7},
{"x":91.5},{"x":91.7},{"x":91.9},{"x":92.1},{"x":92.3},{"x":92.5},{"x":92.7},{"x":92.9},{"x":93.1},{"x":93.3},
{"x":93.7},{"x":93.9},{"x":94.1},{"x":94.3},{"x":94.5},{"x":94.7},{"x":94.9},{"x":95.1},{"x":95.3},{"x":95.5},{"x":95.7},{"x":95.9},{"x":96.1},{"x":96.3},{"x":96.5},{"x":96.7},{"x":96.9},{"x":97.1},{"x":97.3},{"x":97.5},{"x":97.7},{"x":97.9},{"x":98.1},{"x":98.3},
{"x":98.5},{"x":98.7},{"x":98.9},{"x":99.1},{"x":99.2},
{"x":99.5},{"x":99.75},{"x":100.0},{"x":100.25},{"x":100.5},{"x":100.75},{"x":101.0},{"x":101.25},{"x":101.5},{"x":101.75},{"x":102.0},{"x":102.25},{"x":102.5},{"x":102.75},{"x":103.0},
{"x":103.4},{"x":103.75},{"x":104.1},{"x":104.45},{"x":104.8},{"x":105.15},{"x":105.5},{"x":105.85},{"x":106.2},{"x":106.55},{"x":106.9},{"x":107.25},{"x":107.6},{"x":107.95},{"x":108.3},{"x":108.65},{"x":109.0},{"x":109.35},{"x":109.7},{"x":110.05},{"x":110.4},{"x":110.75},{"x":111.1},{"x":111.45},{"x":111.8},{"x":112.15},{"x":112.5},{"x":112.85},{"x":113.2},{"x":113.55},{"x":113.9},{"x":114.25},{"x":114.6},{"x":114.95},
{"x":115.4},{"x":115.85},{"x":116.3},{"x":116.75},{"x":117.2},{"x":117.65},{"x":118.1},{"x":118.55},{"x":119.0},{"x":119.45},{"x":119.9},{"x":120.35},{"x":120.8},{"x":121.25},{"x":121.7},{"x":122.15},{"x":122.6},{"x":123.05},{"x":123.5},{"x":123.95},{"x":124.4},{"x":124.85},{"x":125.3},{"x":125.75},{"x":126.2},{"x":126.65},{"x":127.1},{"x":127.55},{"x":128.0},{"x":128.45},{"x":128.9},{"x":129.35},{"x":129.8}
]
},
"layer": [
{
  "data": {"name": "obs"},
  "mark": {"type": "point", "shape": "circle", "filled": false, "color": "#ff0000", "size": 150, "strokeWidth": 1.5, "opacity": 1},
  "encoding": {
    "x": {"field": "x", "type": "quantitative", "title": "2θ (°)", "scale": {"domain": [13, 130.8], "nice": false, "zero": false},
      "axis": {"values": [15,20,25,30,35,40,45,50,55,60,65,70,75,80,85,90,95,100,105,110,115,120,125,130], "tickSize": {"condition": {"test": "datum.value % 20 === 0", "value": 13}, "value": 7}, "labelExpr": "datum.value % 20 === 0 ? '' + datum.value : ''"}},
    "y": {"field": "y", "type": "quantitative", "title": "Intensity ×10³ (a.u.)", "scale": {"domain": [-8, 23], "nice": false, "zero": false},
      "axis": {"values": [-7.5,-5,-2.5,0,2.5,5,7.5,10,12.5,15,17.5,20,22.5], "tickSize": {"condition": {"test": "datum.value % 5 === 0", "value": 13}, "value": 7}, "labelExpr": "datum.value % 5 === 0 ? '' + datum.value : ''"}}
  }
},
{
  "data": {"name": "calc"},
  "mark": {"type": "line", "color": "black", "strokeWidth": 2.5},
  "encoding": {
    "x": {"field": "x", "type": "quantitative", "title": "2θ (°)", "axis": {"values": [15,20,25,30,35,40,45,50,55,60,65,70,75,80,85,90,95,100,105,110,115,120,125,130], "tickSize": {"condition": {"test": "datum.value % 20 === 0", "value": 13}, "value": 7}, "labelExpr": "datum.value % 20 === 0 ? '' + datum.value : ''"}},
    "y": {"field": "y", "type": "quantitative", "title": "Intensity ×10³ (a.u.)", "axis": {"values": [-7.5,-5,-2.5,0,2.5,5,7.5,10,12.5,15,17.5,20,22.5], "tickSize": {"condition": {"test": "datum.value % 5 === 0", "value": 13}, "value": 7}, "labelExpr": "datum.value % 5 === 0 ? '' + datum.value : ''"}}
  }
},
{
  "data": {"name": "diff"},
  "mark": {"type": "line", "color": "#0000ff", "strokeWidth": 2.5},
  "encoding": {
    "x": {"field": "x", "type": "quantitative", "title": "2θ (°)", "axis": {"values": [15,20,25,30,35,40,45,50,55,60,65,70,75,80,85,90,95,100,105,110,115,120,125,130], "tickSize": {"condition": {"test": "datum.value % 20 === 0", "value": 13}, "value": 7}, "labelExpr": "datum.value % 20 === 0 ? '' + datum.value : ''"}},
    "y": {"field": "y", "type": "quantitative", "title": "Intensity ×10³ (a.u.)", "axis": {"values": [-7.5,-5,-2.5,0,2.5,5,7.5,10,12.5,15,17.5,20,22.5], "tickSize": {"condition": {"test": "datum.value % 5 === 0", "value": 13}, "value": 7}, "labelExpr": "datum.value % 5 === 0 ? '' + datum.value : ''"}}
  }
},
{
  "data": {"name": "bragg"},
  "mark": {"type": "rule", "color": "black", "strokeWidth": 1.5},
  "encoding": {
    "x": {"field": "x", "type": "quantitative", "title": "2θ (°)", "axis": {"values": [15,20,25,30,35,40,45,50,55,60,65,70,75,80,85,90,95,100,105,110,115,120,125,130], "tickSize": {"condition": {"test": "datum.value % 20 === 0", "value": 13}, "value": 7}, "labelExpr": "datum.value % 20 === 0 ? '' + datum.value : ''"}},
    "y": {"datum": -1.8, "axis": {"values": [-7.5,-5,-2.5,0,2.5,5,7.5,10,12.5,15,17.5,20,22.5], "tickSize": {"condition": {"test": "datum.value % 5 === 0", "value": 13}, "value": 7}, "labelExpr": "datum.value % 5 === 0 ? '' + datum.value : ''"}},
    "y2": {"datum": -3.0}
  }
},
{
  "mark": {"type": "rule", "color": "black", "strokeWidth": 2},
  "encoding": {
    "y": {"datum": 23, "axis": {"values": [-7.5,-5,-2.5,0,2.5,5,7.5,10,12.5,15,17.5,20,22.5], "tickSize": {"condition": {"test": "datum.value % 5 === 0", "value": 13}, "value": 7}, "labelExpr": "datum.value % 5 === 0 ? '' + datum.value : ''"}}
  }
},
{
  "data": {"values": [
    {"t": "a = 1247.74(3) pm", "g": "cell"},
    {"t": "c =", "g": "cell"},
    {"t": "394.56(2) pm", "g": "cell"}
  ]},
  "layer": [
    {
      "transform": [{"filter": "datum.t === 'a = 1247.74(3) pm'"}],
      "mark": {"type": "text", "align": "left", "baseline": "alphabetic", "fontSize": 35, "color": "black"},
      "encoding": {
        "text": {"field": "t"},
        "x": {"datum": 37.99, "axis": {"values": [15,20,25,30,35,40,45,50,55,60,65,70,75,80,85,90,95,100,105,110,115,120,125,130], "tickSize": {"condition": {"test": "datum.value % 20 === 0", "value": 13}, "value": 7}, "labelExpr": "datum.value % 20 === 0 ? '' + datum.value : ''"}},
        "y": {"datum": 19.36, "axis": {"values": [-7.5,-5,-2.5,0,2.5,5,7.5,10,12.5,15,17.5,20,22.5], "tickSize": {"condition": {"test": "datum.value % 5 === 0", "value": 13}, "value": 7}, "labelExpr": "datum.value % 5 === 0 ? '' + datum.value : ''"}}
      }
    },
    {
      "transform": [{"filter": "datum.t === 'c ='"}],
      "mark": {"type": "text", "align": "left", "baseline": "alphabetic", "fontSize": 35, "color": "black"},
      "encoding": {
        "text": {"field": "t"},
        "x": {"datum": 37.99, "axis": {"values": [15,20,25,30,35,40,45,50,55,60,65,70,75,80,85,90,95,100,105,110,115,120,125,130], "tickSize": {"condition": {"test": "datum.value % 20 === 0", "value": 13}, "value": 7}, "labelExpr": "datum.value % 20 === 0 ? '' + datum.value : ''"}},
        "y": {"datum": 17.19, "axis": {"values": [-7.5,-5,-2.5,0,2.5,5,7.5,10,12.5,15,17.5,20,22.5], "tickSize": {"condition": {"test": "datum.value % 5 === 0", "value": 13}, "value": 7}, "labelExpr": "datum.value % 5 === 0 ? '' + datum.value : ''"}}
      }
    },
    {
      "transform": [{"filter": "datum.t === '394.56(2) pm'"}],
      "mark": {"type": "text", "align": "right", "baseline": "alphabetic", "fontSize": 35, "color": "black"},
      "encoding": {
        "text": {"field": "t"},
        "x": {"datum": 79.57, "axis": {"values": [15,20,25,30,35,40,45,50,55,60,65,70,75,80,85,90,95,100,105,110,115,120,125,130], "tickSize": {"condition": {"test": "datum.value % 20 === 0", "value": 13}, "value": 7}, "labelExpr": "datum.value % 20 === 0 ? '' + datum.value : ''"}},
        "y": {"datum": 17.19, "axis": {"values": [-7.5,-5,-2.5,0,2.5,5,7.5,10,12.5,15,17.5,20,22.5], "tickSize": {"condition": {"test": "datum.value % 5 === 0", "value": 13}, "value": 7}, "labelExpr": "datum.value % 5 === 0 ? '' + datum.value : ''"}}
      }
    }
  ]
},
{
  "mark": {"type": "point", "shape": "circle", "filled": false, "color": "#ff0000", "size": 450, "strokeWidth": 3, "opacity": 1},
  "encoding": {
    "x": {"datum": 89.41, "axis": {"values": [15,20,25,30,35,40,45,50,55,60,65,70,75,80,85,90,95,100,105,110,115,120,125,130], "tickSize": {"condition": {"test": "datum.value % 20 === 0", "value": 13}, "value": 7}, "labelExpr": "datum.value % 20 === 0 ? '' + datum.value : ''"}},
    "y": {"datum": 20.35, "axis": {"values": [-7.5,-5,-2.5,0,2.5,5,7.5,10,12.5,15,17.5,20,22.5], "tickSize": {"condition": {"test": "datum.value % 5 === 0", "value": 13}, "value": 7}, "labelExpr": "datum.value % 5 === 0 ? '' + datum.value : ''"}}
  }
},
{
  "mark": {"type": "rule", "color": "black", "strokeWidth": 2},
  "encoding": {
    "x": {"datum": 86.53, "axis": {"values": [15,20,25,30,35,40,45,50,55,60,65,70,75,80,85,90,95,100,105,110,115,120,125,130], "tickSize": {"condition": {"test": "datum.value % 20 === 0", "value": 13}, "value": 7}, "labelExpr": "datum.value % 20 === 0 ? '' + datum.value : ''"}},
    "x2": {"datum": 92.77},
    "y": {"datum": 17.97, "axis": {"values": [-7.5,-5,-2.5,0,2.5,5,7.5,10,12.5,15,17.5,20,22.5], "tickSize": {"condition": {"test": "datum.value % 5 === 0", "value": 13}, "value": 7}, "labelExpr": "datum.value % 5 === 0 ? '' + datum.value : ''"}}
  }
},
{
  "mark": {"type": "rule", "color": "#0000ff", "strokeWidth": 2.5},
  "encoding": {
    "x": {"datum": 86.77, "axis": {"values": [15,20,25,30,35,40,45,50,55,60,65,70,75,80,85,90,95,100,105,110,115,120,125,130], "tickSize": {"condition": {"test": "datum.value % 20 === 0", "value": 13}, "value": 7}, "labelExpr": "datum.value % 20 === 0 ? '' + datum.value : ''"}},
    "x2": {"datum": 93.02},
    "y": {"datum": 15.03, "axis": {"values": [-7.5,-5,-2.5,0,2.5,5,7.5,10,12.5,15,17.5,20,22.5], "tickSize": {"condition": {"test": "datum.value % 5 === 0", "value": 13}, "value": 7}, "labelExpr": "datum.value % 5 === 0 ? '' + datum.value : ''"}}
  }
},
{
  "mark": {"type": "rule", "color": "black", "strokeWidth": 2},
  "encoding": {
    "x": {"datum": 89.66, "axis": {"values": [15,20,25,30,35,40,45,50,55,60,65,70,75,80,85,90,95,100,105,110,115,120,125,130], "tickSize": {"condition": {"test": "datum.value % 20 === 0", "value": 13}, "value": 7}, "labelExpr": "datum.value % 20 === 0 ? '' + datum.value : ''"}},
    "y": {"datum": 12.4, "axis": {"values": [-7.5,-5,-2.5,0,2.5,5,7.5,10,12.5,15,17.5,20,22.5], "tickSize": {"condition": {"test": "datum.value % 5 === 0", "value": 13}, "value": 7}, "labelExpr": "datum.value % 5 === 0 ? '' + datum.value : ''"}},
    "y2": {"datum": 10.78}
  }
},
{
  "data": {"values": [
    {"t": "Y", "s": "obs", "k": 1},
    {"t": "Y", "s": "calc", "k": 2},
    {"t": "Y", "s": "obs−calc", "k": 3},
    {"t": "Bragg position", "s": "", "k": 4}
  ]},
  "layer": [
    {"transform": [{"filter": "datum.k === 1"}], "mark": {"type": "text", "align": "left", "baseline": "alphabetic", "fontSize": 34, "color": "black"},
     "encoding": {"text": {"field": "t"},
       "x": {"datum": 96.13, "axis": {"values": [15,20,25,30,35,40,45,50,55,60,65,70,75,80,85,90,95,100,105,110,115,120,125,130], "tickSize": {"condition": {"test": "datum.value % 20 === 0", "value": 13}, "value": 7}, "labelExpr": "datum.value % 20 === 0 ? '' + datum.value : ''"}},
       "y": {"datum": 20.3, "axis": {"values": [-7.5,-5,-2.5,0,2.5,5,7.5,10,12.5,15,17.5,20,22.5], "tickSize": {"condition": {"test": "datum.value % 5 === 0", "value": 13}, "value": 7}, "labelExpr": "datum.value % 5 === 0 ? '' + datum.value : ''"}}}},
    {"transform": [{"filter": "datum.k === 1"}], "mark": {"type": "text", "align": "left", "baseline": "alphabetic", "fontSize": 22, "color": "black"},
     "encoding": {"text": {"field": "s"},
       "x": {"datum": 99.4, "axis": {"values": [15,20,25,30,35,40,45,50,55,60,65,70,75,80,85,90,95,100,105,110,115,120,125,130], "tickSize": {"condition": {"test": "datum.value % 20 === 0", "value": 13}, "value": 7}, "labelExpr": "datum.value % 20 === 0 ? '' + datum.value : ''"}},
       "y": {"datum": 19.61, "axis": {"values": [-7.5,-5,-2.5,0,2.5,5,7.5,10,12.5,15,17.5,20,22.5], "tickSize": {"condition": {"test": "datum.value % 5 === 0", "value": 13}, "value": 7}, "labelExpr": "datum.value % 5 === 0 ? '' + datum.value : ''"}}}},
    {"transform": [{"filter": "datum.k === 2"}], "mark": {"type": "text", "align": "left", "baseline": "alphabetic", "fontSize": 34, "color": "black"},
     "encoding": {"text": {"field": "t"},
       "x": {"datum": 96.13, "axis": {"values": [15,20,25,30,35,40,45,50,55,60,65,70,75,80,85,90,95,100,105,110,115,120,125,130], "tickSize": {"condition": {"test": "datum.value % 20 === 0", "value": 13}, "value": 7}, "labelExpr": "datum.value % 20 === 0 ? '' + datum.value : ''"}},
       "y": {"datum": 17.46, "axis": {"values": [-7.5,-5,-2.5,0,2.5,5,7.5,10,12.5,15,17.5,20,22.5], "tickSize": {"condition": {"test": "datum.value % 5 === 0", "value": 13}, "value": 7}, "labelExpr": "datum.value % 5 === 0 ? '' + datum.value : ''"}}}},
    {"transform": [{"filter": "datum.k === 2"}], "mark": {"type": "text", "align": "left", "baseline": "alphabetic", "fontSize": 22, "color": "black"},
     "encoding": {"text": {"field": "s"},
       "x": {"datum": 99.4, "axis": {"values": [15,20,25,30,35,40,45,50,55,60,65,70,75,80,85,90,95,100,105,110,115,120,125,130], "tickSize": {"condition": {"test": "datum.value % 20 === 0", "value": 13}, "value": 7}, "labelExpr": "datum.value % 20 === 0 ? '' + datum.value : ''"}},
       "y": {"datum": 16.73, "axis": {"values": [-7.5,-5,-2.5,0,2.5,5,7.5,10,12.5,15,17.5,20,22.5], "tickSize": {"condition": {"test": "datum.value % 5 === 0", "value": 13}, "value": 7}, "labelExpr": "datum.value % 5 === 0 ? '' + datum.value : ''"}}}},
    {"transform": [{"filter": "datum.k === 3"}], "mark": {"type": "text", "align": "left", "baseline": "alphabetic", "fontSize": 34, "color": "black"},
     "encoding": {"text": {"field": "t"},
       "x": {"datum": 96.13, "axis": {"values": [15,20,25,30,35,40,45,50,55,60,65,70,75,80,85,90,95,100,105,110,115,120,125,130], "tickSize": {"condition": {"test": "datum.value % 20 === 0", "value": 13}, "value": 7}, "labelExpr": "datum.value % 20 === 0 ? '' + datum.value : ''"}},
       "y": {"datum": 14.6, "axis": {"values": [-7.5,-5,-2.5,0,2.5,5,7.5,10,12.5,15,17.5,20,22.5], "tickSize": {"condition": {"test": "datum.value % 5 === 0", "value": 13}, "value": 7}, "labelExpr": "datum.value % 5 === 0 ? '' + datum.value : ''"}}}},
    {"transform": [{"filter": "datum.k === 3"}], "mark": {"type": "text", "align": "left", "baseline": "alphabetic", "fontSize": 22, "color": "black"},
     "encoding": {"text": {"field": "s"},
       "x": {"datum": 99.4, "axis": {"values": [15,20,25,30,35,40,45,50,55,60,65,70,75,80,85,90,95,100,105,110,115,120,125,130], "tickSize": {"condition": {"test": "datum.value % 20 === 0", "value": 13}, "value": 7}, "labelExpr": "datum.value % 20 === 0 ? '' + datum.value : ''"}},
       "y": {"datum": 13.89, "axis": {"values": [-7.5,-5,-2.5,0,2.5,5,7.5,10,12.5,15,17.5,20,22.5], "tickSize": {"condition": {"test": "datum.value % 5 === 0", "value": 13}, "value": 7}, "labelExpr": "datum.value % 5 === 0 ? '' + datum.value : ''"}}}},
    {"transform": [{"filter": "datum.k === 4"}], "mark": {"type": "text", "align": "left", "baseline": "alphabetic", "fontSize": 34, "color": "black"},
     "encoding": {"text": {"field": "t"},
       "x": {"datum": 96.13, "axis": {"values": [15,20,25,30,35,40,45,50,55,60,65,70,75,80,85,90,95,100,105,110,115,120,125,130], "tickSize": {"condition": {"test": "datum.value % 20 === 0", "value": 13}, "value": 7}, "labelExpr": "datum.value % 20 === 0 ? '' + datum.value : ''"}},
       "y": {"datum": 11.0, "axis": {"values": [-7.5,-5,-2.5,0,2.5,5,7.5,10,12.5,15,17.5,20,22.5], "tickSize": {"condition": {"test": "datum.value % 5 === 0", "value": 13}, "value": 7}, "labelExpr": "datum.value % 5 === 0 ? '' + datum.value : ''"}}}}
  ]
}
]
}
